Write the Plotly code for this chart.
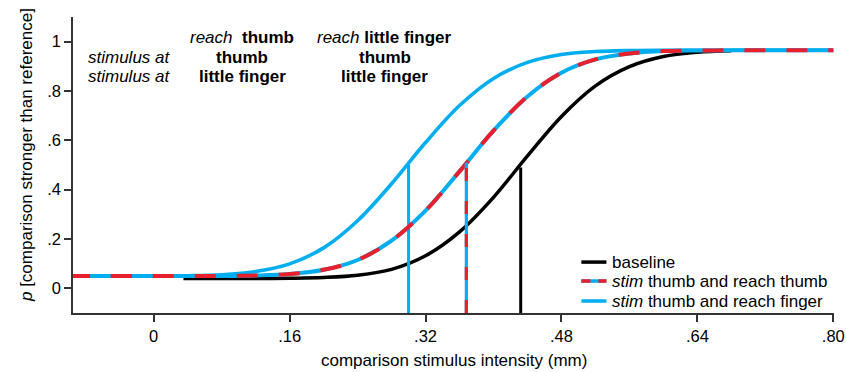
import plotly.graph_objects as go

# ---- data ----
x_tick_vals = [0, 0.16, 0.32, 0.48, 0.64, 0.80]
x_tick_text = ["0", ".16", ".32", ".48", ".64", ".80"]
y_tick_vals = [0, 0.2, 0.4, 0.6, 0.8, 1.0]
y_tick_text = ["0", ".2", ".4", ".6", ".8", "1"]

x_stim = [-0.10, -0.04, 0.00, 0.04, 0.08, 0.12, 0.16, 0.20, 0.24, 0.28, 0.32,
          0.36, 0.40, 0.44, 0.48, 0.52, 0.56, 0.60, 0.64, 0.68, 0.72, 0.76, 0.80]
p_reach_finger = [0.050, 0.050, 0.050, 0.051, 0.055, 0.068, 0.099, 0.164, 0.274, 0.424, 0.591,
                  0.741, 0.851, 0.916, 0.948, 0.960, 0.964, 0.965, 0.965, 0.965, 0.965, 0.965, 0.965]
p_reach_thumb = [0.050, 0.050, 0.050, 0.050, 0.050, 0.052, 0.058, 0.075, 0.115, 0.193, 0.315,
                 0.474, 0.639, 0.778, 0.874, 0.928, 0.952, 0.962, 0.964, 0.965, 0.965, 0.965, 0.965]

x_base = [0.035, 0.08, 0.12, 0.16, 0.20, 0.24, 0.28, 0.32, 0.36, 0.40, 0.44,
          0.48, 0.52, 0.56, 0.60, 0.64, 0.68]
p_baseline = [0.040, 0.040, 0.040, 0.041, 0.044, 0.053, 0.077, 0.132, 0.229, 0.369, 0.537,
              0.697, 0.821, 0.899, 0.940, 0.957, 0.963]

# points of subjective equality (x) and curve height there
pse_x = {"baseline": 0.432, "thumb": 0.368, "finger": 0.300}
pse_y = {"baseline": 0.49, "thumb": 0.51, "finger": 0.50}

legend_labels = ["baseline", "<i>stim</i> thumb and reach thumb", "<i>stim</i> thumb and reach finger"]

X_RANGE = [-0.095, 0.8008]
Y_RANGE = [-0.10, 1.10]

# ---- styling ----
CYAN = "#00AEEF"
RED = "#E8202E"
BLACK = "#000000"
AXC = "#333333"
FONT = "Liberation Sans, Arial, Helvetica, sans-serif"
FS = 17

fig = go.Figure()

def line(x, y, color, width, dash="solid"):
    fig.add_trace(go.Scatter(x=x, y=y, mode="lines", showlegend=False, hoverinfo="skip",
                             line=dict(color=color, width=width, dash=dash, shape="spline", smoothing=1)))

def vline(x0, y1, color, width, dash="solid"):
    fig.add_trace(go.Scatter(x=[x0, x0], y=[Y_RANGE[0], y1], mode="lines", showlegend=False,
                             hoverinfo="skip", line=dict(color=color, width=width, dash=dash)))

# baseline
line(x_base, p_baseline, BLACK, 3.5)
vline(pse_x["baseline"], pse_y["baseline"], BLACK, 3)
# reach finger
line(x_stim, p_reach_finger, CYAN, 3.6)
vline(pse_x["finger"], pse_y["finger"], CYAN, 3)
# reach thumb (red dashes on cyan)
line(x_stim, p_reach_thumb, CYAN, 4)
line(x_stim, p_reach_thumb, RED, 4, dash="21px,21px")
vline(pse_x["thumb"], pse_y["thumb"], CYAN, 3.2)
vline(pse_x["thumb"], pse_y["thumb"], RED, 3.2, dash="13px,20px")

# ---- text annotations ----
ann = []
def txt(x, y, s, anchor="center", xref="x", yref="y", **kw):
    ann.append(dict(x=x, y=y, xref=xref, yref=yref, text=s, showarrow=False,
                    xanchor=anchor, yanchor="middle", font=dict(family=FONT, size=FS, color="black"), **kw))

row = [1.016, 0.935, 0.858]
txt(-0.080, row[1], "<i>stimulus at</i>", anchor="left")
txt(-0.080, row[2], "<i>stimulus at</i>", anchor="left")
txt(0.1044, row[0], "<i>reach</i>  <b>thumb</b>")
txt(0.1044, row[1], "<b>thumb</b>")
txt(0.1044, row[2], "<b>little finger</b>")
txt(0.272, row[0], "<i>reach</i> <b>little finger</b>")
txt(0.272, row[1], "<b>thumb</b>")
txt(0.272, row[2], "<b>little finger</b>")

# axis titles
txt(-0.0603, 0.534, "<i>p</i> [comparison stronger than reference]", xref="paper", yref="paper", textangle=-90)
txt(0.5, -0.159, "comparison stimulus intensity (mm)", xref="paper", yref="paper")

# manual legend
leg_y = [0.172, 0.108, 0.0405]
lx0, lx1, ltx = 0.668, 0.701, 0.706
shapes = []
def sh(y, color, dash="solid"):
    shapes.append(dict(type="line", xref="paper", yref="paper", x0=lx0, x1=lx1, y0=y, y1=y,
                       line=dict(color=color, width=3.5, dash=dash)))
sh(leg_y[0], BLACK)
sh(leg_y[1], CYAN)
sh(leg_y[1], RED, "9px,8px")
sh(leg_y[2], CYAN)
for yy, lab in zip(leg_y, legend_labels):
    txt(ltx, yy, lab, anchor="left", xref="paper", yref="paper")

axis_common = dict(showline=True, linecolor=AXC, linewidth=1.6, ticks="outside", ticklen=7,
                   tickwidth=1.6, tickcolor=AXC, showgrid=False, zeroline=False,
                   ticklabeloverflow="allow", automargin=False,
                   tickfont=dict(family=FONT, size=16.5, color="black"), fixedrange=True)

fig.update_layout(
    width=846, height=372,
    margin=dict(l=73, r=12, t=17, b=59),
    plot_bgcolor="white", paper_bgcolor="white",
    font=dict(family=FONT, size=FS, color="black"),
    xaxis=dict(range=X_RANGE, tickvals=x_tick_vals, ticktext=x_tick_text, **axis_common),
    yaxis=dict(range=Y_RANGE, tickvals=y_tick_vals, ticktext=y_tick_text, **axis_common),
    annotations=ann, shapes=shapes, showlegend=False,
)

fig.write_html("out.html", config={"displayModeBar": False},
               post_script="document.body.style.margin='0px';document.body.style.overflow='hidden';")
